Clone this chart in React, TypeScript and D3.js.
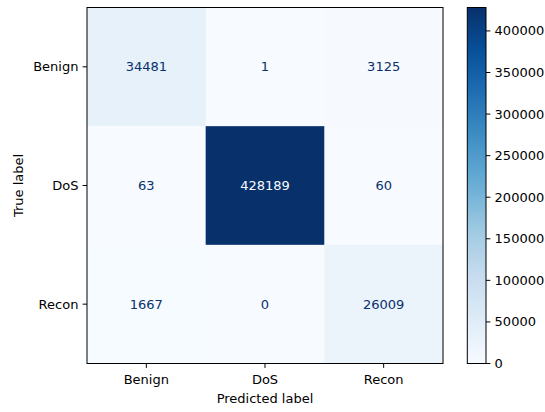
import React from "react";
import * as d3 from "d3";

// Confusion matrix counts: rows = true label, columns = predicted label
const classes = ["Benign", "DoS", "Recon"];
const rowBenign = [34481, 1, 3125];
const rowDoS = [63, 428189, 60];
const rowRecon = [1667, 0, 26009];
const matrix = [rowBenign, rowDoS, rowRecon];
const colorbarTicks = [0, 50000, 100000, 150000, 200000, 250000, 300000, 350000, 400000];

// Matplotlib-style "Blues" colormap: linear segments between ColorBrewer stops
const bluesStops = ["#f7fbff", "#deebf7", "#c6dbef", "#9ecae1", "#6baed6", "#4292c6", "#2171b5", "#08519c", "#08306b"];

const W = 545;
const H = 412;
const FONT = "DejaVu Sans, sans-serif";
const FS = 13;

export default function App() {
  const left = 87;
  const top = 7.5;
  const size = 356;
  const cbLeft = 467.3;
  const cbWidth = 18.7;

  const flat = matrix.flat();
  const vmin = d3.min(flat) as number;
  const vmax = d3.max(flat) as number;

  const t = d3.scaleLinear().domain([vmin, vmax]).range([0, 1]).clamp(true);
  const blues = d3
    .scaleLinear<string>()
    .domain(bluesStops.map((_, i) => i / (bluesStops.length - 1)))
    .range(bluesStops)
    .interpolate(d3.interpolateRgb);
  const color = (v: number) => blues(t(v));

  const x = d3.scaleBand().domain(classes).range([left, left + size]);
  const y = d3.scaleBand().domain(classes).range([top, top + size]);
  const cbY = d3.scaleLinear().domain([vmin, vmax]).range([top + size, top]);

  const thresh = (vmax + vmin) / 2;
  const tickLen = 4.4;
  const pad = 4.2;

  const gradStops = d3.range(0, 1.0001, 0.02);

  return (
    <svg width={W} height={H} style={{ position: "absolute", left: 0, top: 0, background: "#fff" }} fontFamily={FONT}>
      <defs>
        <linearGradient id="cbGrad" x1="0" y1="1" x2="0" y2="0">
          {gradStops.map((s) => (
            <stop key={s} offset={s} stopColor={blues(s)} />
          ))}
        </linearGradient>
      </defs>
      <rect x={0} y={0} width={W} height={H} fill="#fff" />

      {/* cells */}
      {matrix.map((row, i) =>
        row.map((v, j) => (
          <rect
            key={`c${i}-${j}`}
            x={x(classes[j])}
            y={y(classes[i])}
            width={x.bandwidth() + 0.5}
            height={y.bandwidth() + 0.5}
            fill={color(v)}
          />
        ))
      )}
      {/* cell values */}
      {matrix.map((row, i) =>
        row.map((v, j) => (
          <text
            key={`t${i}-${j}`}
            x={(x(classes[j]) as number) + x.bandwidth() / 2}
            y={(y(classes[i]) as number) + y.bandwidth() / 2}
            textAnchor="middle"
            dominantBaseline="central"
            fontSize={FS}
            fill={v < thresh ? bluesStops[bluesStops.length - 1] : bluesStops[0]}
          >
            {v}
          </text>
        ))
      )}
      <rect x={left} y={top} width={size} height={size} fill="none" stroke="#000" strokeWidth={1} />

      {/* x axis */}
      {classes.map((c) => {
        const cx = (x(c) as number) + x.bandwidth() / 2;
        return (
          <g key={`x${c}`}>
            <line x1={cx} x2={cx} y1={top + size} y2={top + size + tickLen} stroke="#000" strokeWidth={1} />
            <text x={cx} y={top + size + 20.5} textAnchor="middle" fontSize={FS} fill="#000">
              {c}
            </text>
          </g>
        );
      })}
      <text x={left + size / 2} y={403} textAnchor="middle" fontSize={FS} fill="#000">
        Predicted label
      </text>

      {/* y axis */}
      {classes.map((c) => {
        const cy = (y(c) as number) + y.bandwidth() / 2;
        return (
          <g key={`y${c}`}>
            <line x1={left - tickLen} x2={left} y1={cy} y2={cy} stroke="#000" strokeWidth={1} />
            <text x={left - tickLen - pad} y={cy} textAnchor="end" dominantBaseline="central" fontSize={FS} fill="#000">
              {c}
            </text>
          </g>
        );
      })}
      <text
        transform={`translate(22.5, ${top + size / 2}) rotate(-90)`}
        textAnchor="middle"
        fontSize={FS}
        fill="#000"
      >
        True label
      </text>

      {/* colorbar */}
      <rect x={cbLeft} y={top} width={cbWidth} height={size} fill="url(#cbGrad)" />
      <rect x={cbLeft} y={top} width={cbWidth} height={size} fill="none" stroke="#000" strokeWidth={1} />
      {colorbarTicks.map((v) => (
        <g key={`cb${v}`}>
          <line x1={cbLeft + cbWidth} x2={cbLeft + cbWidth + tickLen} y1={cbY(v)} y2={cbY(v)} stroke="#000" strokeWidth={1} />
          <text
            x={cbLeft + cbWidth + tickLen + pad}
            y={cbY(v)}
            dominantBaseline="central"
            fontSize={FS}
            fill="#000"
          >
            {v}
          </text>
        </g>
      ))}
    </svg>
  );
}
